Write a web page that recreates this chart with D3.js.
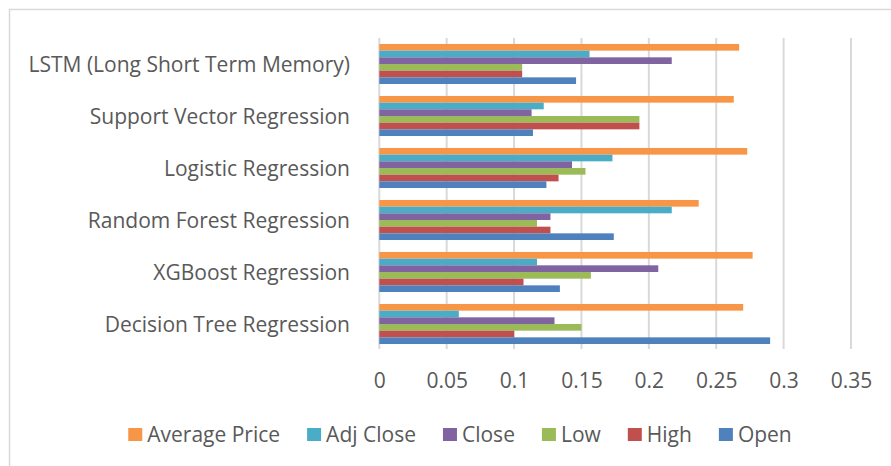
<!DOCTYPE html>
<html>
<head>
<meta charset="utf-8">
<script src="https://cdn.jsdelivr.net/npm/d3@7"></script>
<style>
  html, body { margin: 0; padding: 0; background: #fff; }
  svg { display: block; }
  text { font-family: "Open Sans", "Noto Sans", sans-serif; fill: #595959; }
</style>
</head>
<body>
<svg id="chart" width="891" height="466"></svg>
<script>
// Models, listed top to bottom as they appear on the category axis
const categories = [
  "LSTM (Long Short Term Memory)",
  "Support Vector Regression",
  "Logistic Regression",
  "Random Forest Regression",
  "XGBoost Regression",
  "Decision Tree Regression"
];

// Error values per price field, one per model (same order as categories)
const averagePrice = [0.267, 0.263, 0.273, 0.237, 0.277, 0.270];
const adjClose     = [0.156, 0.122, 0.173, 0.217, 0.117, 0.059];
const closeVals    = [0.217, 0.113, 0.143, 0.127, 0.207, 0.130];
const lowVals      = [0.106, 0.193, 0.153, 0.117, 0.157, 0.150];
const highVals     = [0.106, 0.193, 0.133, 0.127, 0.107, 0.100];
const openVals     = [0.146, 0.114, 0.124, 0.174, 0.134, 0.290];

const seriesNames  = ["Average Price", "Adj Close", "Close", "Low", "High", "Open"];
const seriesValues = [averagePrice, adjClose, closeVals, lowVals, highVals, openVals];
const seriesColors = ["#F79646", "#4BACC6", "#8064A2", "#9BBB59", "#C0504D", "#4F81BD"];

const xTicks = [0, 0.05, 0.1, 0.15, 0.2, 0.25, 0.3, 0.35];

const svg = d3.select("#chart");

// narrow a text run by a given factor
function condense(k) {
  return sel => sel.each(function () {
    const w = this.getComputedTextLength();
    d3.select(this).attr("textLength", w * k).attr("lengthAdjust", "spacingAndGlyphs");
  });
}

// chart area frame
svg.append("rect")
  .attr("x", 9.5).attr("y", 9.5)
  .attr("width", 1000).attr("height", 1000)
  .attr("fill", "none").attr("stroke", "#d9d9d9").attr("stroke-width", 1.5);

const plot = { left: 379.3, right: 851, top: 38, bottom: 350 };

const x = d3.scaleLinear().domain([0, 0.35]).range([plot.left, plot.right]);
const y = d3.scaleBand().domain(categories).range([plot.top, plot.bottom])
  .paddingInner(0.23).paddingOuter(0.115);
const ySub = d3.scaleBand().domain(seriesNames).range([0, y.bandwidth()]);

// vertical gridlines
svg.append("g").selectAll("line").data(xTicks).join("line")
  .attr("x1", d => x(d)).attr("x2", d => x(d))
  .attr("y1", plot.top).attr("y2", plot.bottom - 1)
  .attr("stroke", "#d9d9d9").attr("stroke-width", 2);

// bars
const groups = svg.append("g").selectAll("g").data(categories).join("g")
  .attr("transform", d => `translate(0,${y(d)})`);

groups.selectAll("rect")
  .data((c, ci) => seriesNames.map((s, si) => ({ s, si, v: seriesValues[si][ci] })))
  .join("rect")
  .attr("x", x(0))
  .attr("y", d => ySub(d.s))
  .attr("width", d => x(d.v) - x(0))
  .attr("height", ySub.bandwidth())
  .attr("fill", d => seriesColors[d.si]);

// category labels
svg.append("g").selectAll("text").data(categories).join("text")
  .attr("x", 350)
  .attr("y", d => y(d) + y.bandwidth() / 2 + 7.5)
  .attr("text-anchor", "end")
  .attr("font-size", 22)
  .text(d => d)
  .call(condense(0.955));

// value axis labels
const xAxis = d3.axisBottom(x).tickValues(xTicks).tickSize(0).tickPadding(0)
  .tickFormat(d => String(d));
const axisG = svg.append("g").attr("transform", "translate(0,372)").call(xAxis);
axisG.select(".domain").remove();
axisG.selectAll("text")
  .attr("font-size", 21)
  .attr("font-family", "Open Sans, Noto Sans, sans-serif")
  .attr("fill", "#595959")
  .attr("dy", "0.76em");

// legend
const legend = svg.append("g");
const items = legend.selectAll("g").data(seriesNames).join("g");
items.append("rect")
  .attr("width", 14).attr("height", 13)
  .attr("y", -13.5)
  .attr("fill", (d, i) => seriesColors[i]);
items.append("text")
  .attr("x", 19).attr("y", 0)
  .attr("font-size", 21)
  .text(d => d)
  .call(condense(1.0));

const widths = [];
items.each(function () {
  const t = d3.select(this).select("text").node();
  widths.push(19 + (+t.getAttribute("textLength")));
});
const gap = 27;
const total = d3.sum(widths) + gap * (widths.length - 1);
let start = 460 - total / 2;
items.attr("transform", (d, i) => {
  const tx = start;
  start += widths[i] + gap;
  return `translate(${tx},441.5)`;
});
</script>
</body>
</html>
